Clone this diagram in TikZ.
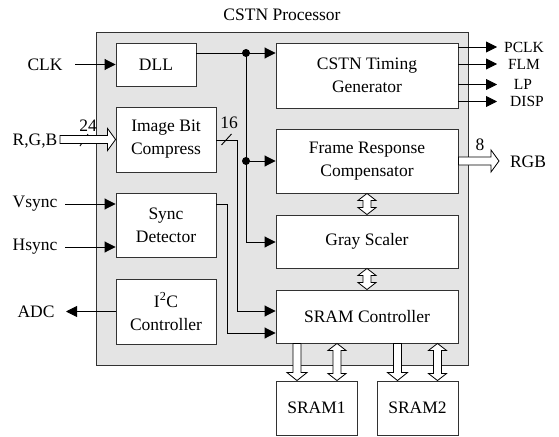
\documentclass[tikz,border=0pt]{standalone}
\usepackage{fontspec}
\setmainfont{Liberation Serif}
\usetikzlibrary{arrows.meta,calc}
\definecolor{bgc}{RGB}{228,228,228}
\definecolor{edge}{RGB}{50,50,50}
% hollow block arrows
\newcommand{\blkR}[2]{\draw[blk] let \p1=#1, \p2=#2 in
  (\x1,\y1+4pt) -- (\x2-8pt,\y1+4pt) -- (\x2-8pt,\y1+11pt) -- (\x2,\y1) --
  (\x2-8pt,\y1-11pt) -- (\x2-8pt,\y1-4pt) -- (\x1,\y1-4pt) -- cycle;}
\newcommand{\blkD}[2]{\draw[blk] let \p1=#1, \p2=#2 in
  (\x1-4pt,\y1) -- (\x1-4pt,\y2+8pt) -- (\x1-10pt,\y2+8pt) -- (\x1,\y2) --
  (\x1+10pt,\y2+8pt) -- (\x1+4pt,\y2+8pt) -- (\x1+4pt,\y1) -- cycle;}
\newcommand{\blkV}[2]{\draw[blk] let \p1=#1, \p2=#2 in
  (\x1,\y1) -- (\x1+9pt,\y1-7pt) -- (\x1+4pt,\y1-7pt) -- (\x1+4pt,\y2+7pt) --
  (\x1+9pt,\y2+7pt) -- (\x1,\y2) -- (\x1-9pt,\y2+7pt) -- (\x1-4pt,\y2+7pt) --
  (\x1-4pt,\y1-7pt) -- (\x1-9pt,\y1-7pt) -- cycle;}
\tikzset{
  base/.style={font=\fontsize{17.5}{23}\selectfont},
  blockbox/.style={draw=edge, fill=white, line width=0.9pt, inner sep=0pt, align=center, base},
  lbl/.style={base, inner sep=0pt},
  outlbl/.style={font=\fontsize{15.5}{17}\selectfont, inner sep=0pt, text height=10.5pt, text depth=0pt},
  conn/.style={line width=0.9pt, draw=black},
  blk/.style={draw=black, fill=white, line width=0.8pt, line join=miter},
  >={Triangle[length=11pt,width=11pt]},
}
\begin{document}
\begin{tikzpicture}[x=1pt,y=-1pt]
\useasboundingbox (0,0) rectangle (559,436);
% outer processor box
\draw[edge, fill=bgc, line width=0.9pt] (96,32) rectangle (468,365);
\node[lbl] (title) at (282,15) {CSTN Processor};

% blocks
\node[blockbox, minimum width=80pt, minimum height=43pt] (DLL) at (156,64.5) {DLL};
\node[blockbox, minimum width=100pt, minimum height=65pt] (IBC) at (166,139.5) {Image Bit\\Compress};
\node[blockbox, minimum width=100pt, minimum height=64pt] (SD) at (166,225) {Sync\\Detector};
\node[blockbox, minimum width=100pt, minimum height=65pt] (I2C) at (166,311.5) {I\textsuperscript{2}C\\Controller};
\node[blockbox, minimum width=182pt, minimum height=65pt] (TG) at (367,75.5) {CSTN Timing\\Generator};
\node[blockbox, minimum width=182pt, minimum height=64pt] (FRC) at (367,161) {Frame Response\\Compensator};
\node[blockbox, minimum width=182pt, minimum height=53pt] (GS) at (367,241.5) {Gray Scaler};
\node[blockbox, minimum width=182pt, minimum height=53pt] (SC) at (367,316.5) {SRAM Controller};
\node[blockbox, minimum width=81pt, minimum height=54pt] (S1) at (316.5,408) {SRAM1};
\node[blockbox, minimum width=81pt, minimum height=54pt] (S2) at (417.5,408) {SRAM2};

% input labels
\node[lbl] (clk) at (45,65) {CLK};
\node[lbl] (rgb) at (35,141) {R,G,B};
\node[lbl] (vs) at (35,204) {Vsync};
\node[lbl] (hs) at (35,247) {Hsync};
\node[lbl] (adc) at (36,312) {ADC};
\coordinate (clkin) at (75,64.5);
\coordinate (rgbin) at (60,139.5);
\coordinate (vsin) at (65,204);
\coordinate (hsin) at (65,247);
\coordinate (adcout) at (66,311.5);
\draw[conn,->] (clkin) -- (DLL.west);
\draw[conn,->] (vsin) -- (vsin -| SD.west);
\draw[conn,->] (hsin) -- (hsin -| SD.west);
\draw[conn,->] (I2C.west) -- (adcout);
\draw[conn] (80,146) -- (88,134);
\blkR{(rgbin)}{(IBC.west)}
\node[lbl] (n24) at (88,126) {24};

% bus from DLL
\coordinate (b1) at (246,53);
\coordinate (b2) at (246,161);
\coordinate (b3) at (246,242);
\draw[conn,->] (DLL.east |- b1) -- (b1 -| TG.west);
\draw[conn] (b1) -- (b3);
\draw[conn,->] (b2) -- (b2 -| FRC.west);
\draw[conn,->] (b3) -- (b3 -| GS.west);
\fill (b1) circle (4pt);
\fill (b2) circle (4pt);

% image bit compress to SRAM controller
\coordinate (c1) at (237,140);
\coordinate (c2) at (237,311);
\draw[conn,->] (IBC.east |- c1) -- (c1) -- (c2) -- (c2 -| SC.west);
\draw[conn] (221.5,145) -- (231.5,134);
\node[lbl] (n16) at (229,123) {16};

% sync detector to SRAM controller
\coordinate (d1) at (227,204);
\coordinate (d2) at (227,333);
\draw[conn,->] (SD.east |- d1) -- (d1) -- (d2) -- (d2 -| SC.west);

% timing outputs
\coordinate (o1) at (497,47);
\coordinate (o2) at (497,64);
\coordinate (o3) at (497,84.5);
\coordinate (o4) at (497,101.5);
\draw[conn,->] (o1 -| TG.east) -- (o1);
\draw[conn,->] (o2 -| TG.east) -- (o2);
\draw[conn,->] (o3 -| TG.east) -- (o3);
\draw[conn,->] (o4 -| TG.east) -- (o4);
\node[outlbl] (pclk) at (524,47) {PCLK};
\node[outlbl] (flm) at (524,64) {FLM};
\node[outlbl] (lp) at (523,84.5) {LP};
\node[outlbl] (disp) at (527,101.5) {DISP};

% RGB output
\coordinate (rgbout) at (499,161);
\blkR{(FRC.east)}{(rgbout)}
\node[lbl] (n8) at (480,145) {8};
\node[lbl] (rgbo) at (528,162) {RGB};

% data paths
\blkV{(FRC.south)}{(GS.north)}
\blkV{(GS.south)}{(SC.north)}
\coordinate (x1) at (297,0);
\coordinate (x2) at (337,0);
\coordinate (x3) at (397.5,0);
\coordinate (x4) at (437.5,0);
\blkD{(SC.south -| x1)}{(S1.north -| x1)}
\blkV{(SC.south -| x2)}{(S1.north -| x2)}
\blkD{(SC.south -| x3)}{(S2.north -| x3)}
\blkV{(SC.south -| x4)}{(S2.north -| x4)}
\end{tikzpicture}
\end{document}
